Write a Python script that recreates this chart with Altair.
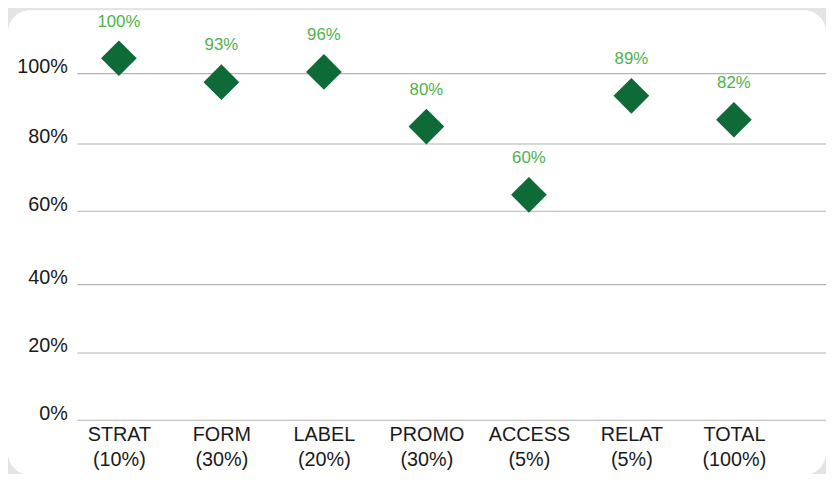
import altair as alt
import pandas as pd

# ---- data ----
categories = ["STRAT", "FORM", "LABEL", "PROMO", "ACCESS", "RELAT", "TOTAL"]
weights = ["(10%)", "(30%)", "(20%)", "(30%)", "(5%)", "(5%)", "(100%)"]
scores = [100, 93, 96, 80, 60, 89, 82]

# gridlines as drawn in the reference (their labels sit slightly offset from the points' scale)
grid_values = [95.5, 74.9, 55.2, 33.7, 13.7, -6]
grid_labels = ["100%", "80%", "60%", "40%", "20%", "0%"]

FONT = "Liberation Sans"
W, H = 756, 400
PAD = {"left": 70, "top": 14, "right": 0, "bottom": 52}

df = pd.DataFrame({
    "cat": [c + "\n" + w for c, w in zip(categories, weights)],
    "score": scores,
    "txt": [f"{v}%" for v in scores],
})
grid_df = pd.DataFrame({"score": grid_values, "lab": grid_labels})

label_expr = " : ".join(
    f"abs(datum.value - ({v})) < 0.01 ? '{l}'" for v, l in zip(grid_values, grid_labels)
) + " : ''"

yscale = alt.Scale(domain=[-6, 110], nice=False, zero=False)
xscale = alt.Scale(type="point", padding=0.652, align=0.311)

yaxis = alt.Axis(
    values=grid_values, labelExpr=label_expr, grid=False,
    ticks=False, domain=False, title=None,
    labelFontSize=20, labelPadding=10, labelOffset=-7,
    labelColor="#1a1a1a", labelFont=FONT, zindex=1,
)

bg = alt.Chart(pd.DataFrame({"k": [0]})).mark_rect(
    color="white", cornerRadius=22
).encode(
    x=alt.value(-PAD["left"]), x2=alt.value(W),
    y=alt.value(-PAD["top"]), y2=alt.value(455),
)

grid = alt.Chart(grid_df).mark_rule(color="#b4b4b4", strokeWidth=1.2).encode(
    y=alt.Y("score:Q", scale=yscale, axis=yaxis)
)

base = alt.Chart(df).encode(
    x=alt.X(
        "cat:N", sort=None, scale=xscale,
        axis=alt.Axis(
            labelExpr="split(datum.label, '\\n')",
            labelFontSize=20, labelLineHeight=26, labelPadding=4,
            labelAngle=0, ticks=False, domain=False, title=None,
            labelColor="#1a1a1a", labelFont=FONT, labelBaseline="top",
            zindex=1,
        ),
    ),
    y=alt.Y("score:Q", scale=yscale, axis=yaxis),
)

points = base.mark_point(
    shape="diamond", filled=True, size=1300, color="#0e6a37", opacity=1, strokeWidth=0
)
labels = base.mark_text(
    dy=-37, fontSize=17, color="#4db34b", font=FONT
).encode(text="txt:N")

chart = alt.layer(bg, grid, points, labels).properties(
    width=W, height=H,
    autosize=alt.AutoSizeParams(type="none"),
    padding=PAD,
    background="#e4e4e4",
).configure_view(stroke=None)

chart.save("out.html", embed_options={"renderer": "svg", "actions": False})
